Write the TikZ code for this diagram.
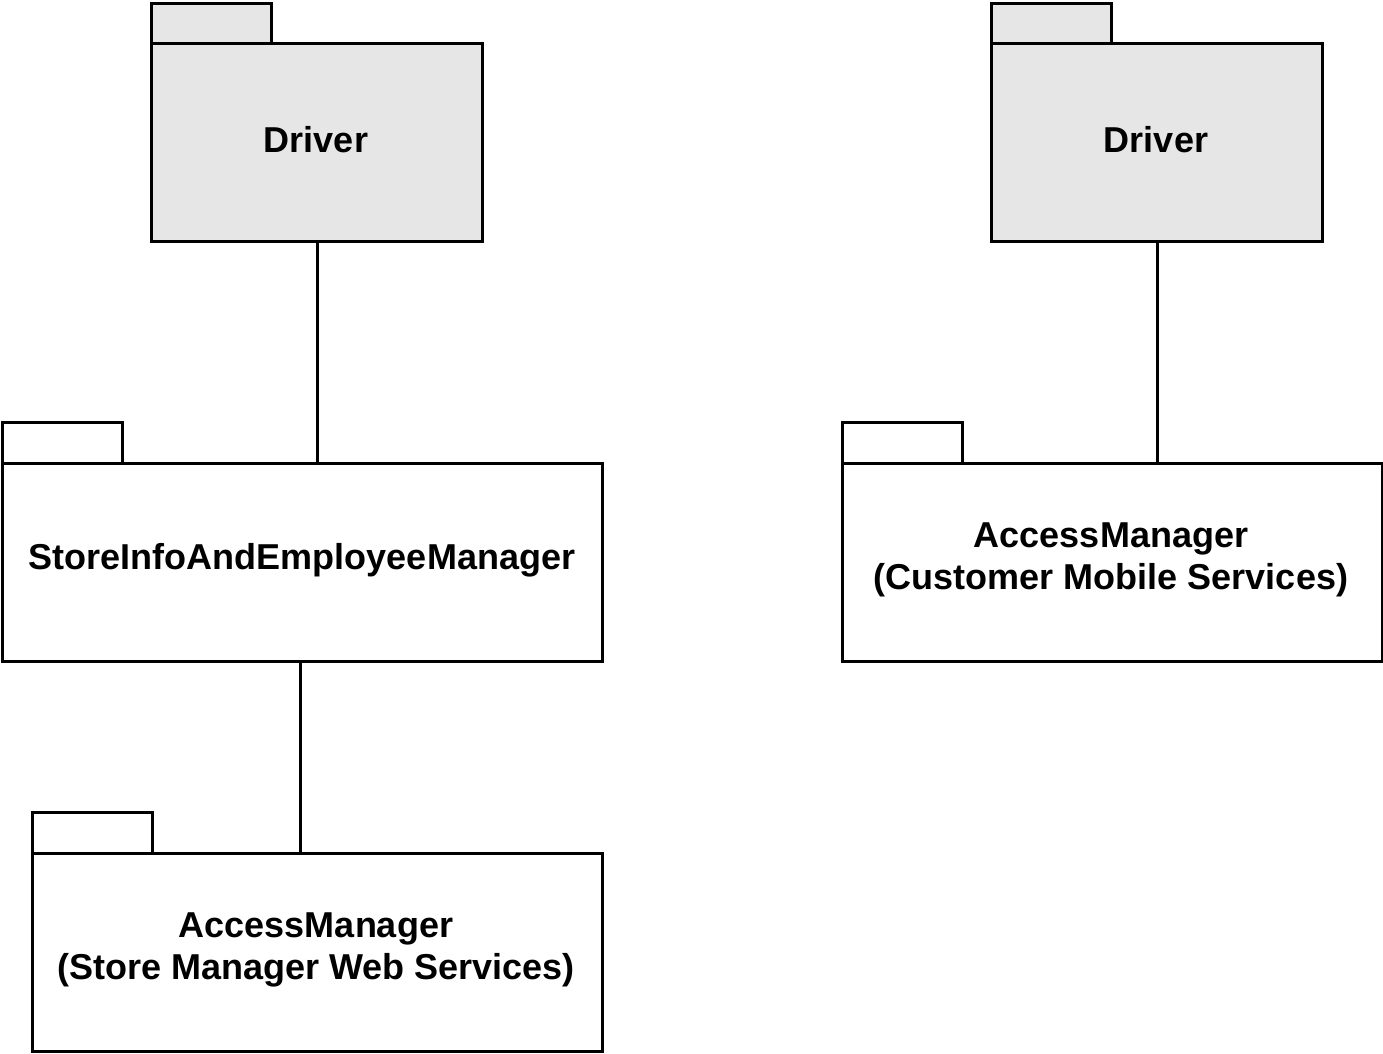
\documentclass[tikz,border=0pt]{standalone}
\usepackage{fontspec}
\setmainfont{Liberation Sans}
\definecolor{pkggray}{HTML}{E6E6E6}
\begin{document}
\begin{tikzpicture}[x=1pt,y=-1pt,
  pkgbox/.style={draw=black, line width=3pt, inner sep=0pt, anchor=north west},
  pkgtab/.style={pkgbox, minimum width=120pt, minimum height=41pt},
  pkgtext/.style={font=\fontsize{36}{41.5}\selectfont\bfseries, align=center, inner sep=0pt},
  conn/.style={draw=black, line width=3pt}]
\useasboundingbox (0,0) rectangle (1383,1053);
% Left driver
\node[pkgtab, fill=pkggray] (d1tab) at (150,1.5) {};
\node[pkgbox, fill=pkggray, minimum width=331pt, minimum height=198pt] (d1) at (150,42) {};
\node[pkgtext] (d1txt) at (316,140) {Driver};
% Right driver
\node[pkgtab, fill=pkggray] (d2tab) at (990,1.5) {};
\node[pkgbox, fill=pkggray, minimum width=331pt, minimum height=198pt] (d2) at (990,42) {};
\node[pkgtext] (d2txt) at (1156,140) {Driver};
% StoreInfoAndEmployeeManager
\node[pkgtab, fill=white] (sitab) at (1,421) {};
\node[pkgbox, fill=white, minimum width=600pt, minimum height=198pt] (si) at (1,462) {};
\node[pkgtext] (sitxt) at (302,560) {StoreInfoAndEmployeeManager};
% AccessManager right
\node[pkgtab, fill=white] (amctab) at (841,421) {};
\node[pkgbox, fill=white, minimum width=540pt, minimum height=198pt] (amc) at (841,462) {};
\node[pkgtext] (amctxt) at (1111,560) {AccessManager\\(Customer Mobile Services)};
% AccessManager bottom
\node[pkgtab, fill=white] (amstab) at (31,811) {};
\node[pkgbox, fill=white, minimum width=570pt, minimum height=198pt] (ams) at (31,852) {};
\node[pkgtext] (amstxt) at (316,950) {AccessManager\\(Store Manager Web Services)};
% connectors
\draw[conn] (d1.south) -- (d1.south |- si.north);
\draw[conn] (d2.south) -- (d2.south |- amc.north);
\coordinate (sibot) at (300,660);
\draw[conn] (sibot) -- (sibot |- ams.north);
\end{tikzpicture}
\end{document}
